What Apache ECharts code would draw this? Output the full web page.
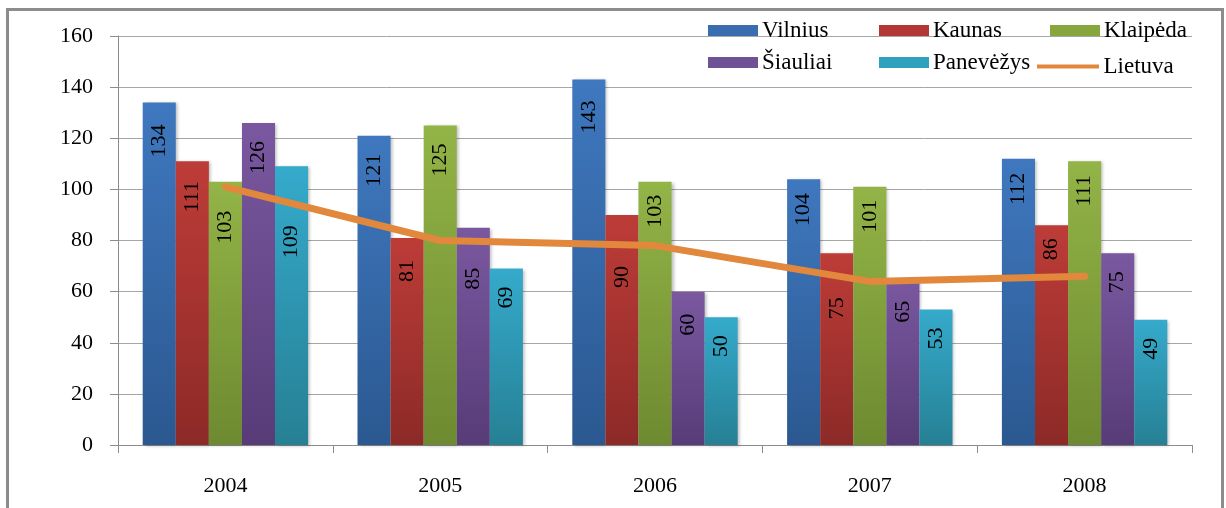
<!DOCTYPE html>
<html>
<head>
<meta charset="utf-8">
<script src="https://cdn.jsdelivr.net/npm/echarts@6/dist/echarts.min.js"></script>
<style>
html,body{margin:0;padding:0;background:#fff;}
#c{width:1226px;height:508px;}
</style>
</head>
<body>
<div id="c"></div>
<script>
const years = ['2004', '2005', '2006', '2007', '2008'];
const vilnius = [134, 121, 143, 104, 112];
const kaunas = [111, 81, 90, 75, 86];
const klaipeda = [103, 125, 103, 101, 111];
const siauliai = [126, 85, 60, 65, 75];
const panevezys = [109, 69, 50, 53, 49];
const lietuva = [101, 80, 78, 64, 66];
const yTicks = [0, 20, 40, 60, 80, 100, 120, 140, 160];

const FONT = '"Liberation Serif", "DejaVu Serif", serif';
const chart = echarts.init(document.getElementById('c'), null, {renderer: 'canvas'});

// label layout: default gap below bar top, with the few labels the original moved away from the line
const LABEL_GAP = 16;
const labelGapOverride = {
  'Klaipėda|0': 27, 'Panevėžys|0': 57, 'Šiauliai|1': 38, 'Kaunas|2': 49, 'Kaunas|3': 42,
  'Vilnius|0': 20, 'Vilnius|2': 19, 'Kaunas|0': 18, 'Kaunas|1': 20, 'Šiauliai|2': 20, 'Šiauliai|3': 20,
  'Vilnius|3': 12, 'Vilnius|4': 12, 'Kaunas|4': 11, 'Klaipėda|2': 11, 'Klaipėda|3': 11, 'Klaipėda|4': 12
};

function grad(top, bottom) {
  return new echarts.graphic.LinearGradient(0, 0, 0, 1, [
    {offset: 0, color: top}, {offset: 1, color: bottom}
  ]);
}
const barDefs = [
  {name: 'Vilnius', data: vilnius, top: '#3f78bf', bottom: '#2b5890'},
  {name: 'Kaunas', data: kaunas, top: '#bd3c38', bottom: '#8c2a27'},
  {name: 'Klaipėda', data: klaipeda, top: '#93b447', bottom: '#6d8a30'},
  {name: 'Šiauliai', data: siauliai, top: '#7a58a0', bottom: '#573c78'},
  {name: 'Panevėžys', data: panevezys, top: '#35aacb', bottom: '#268094'}
];

const series = barDefs.map(d => ({
  name: d.name,
  type: 'bar',
  data: d.data.map((v, i) => {
    const g = labelGapOverride[d.name + '|' + i];
    return g === undefined ? v : {value: v, label: {distance: g + 2}};
  }),
  barGap: '0%',
  barCategoryGap: '23%',
  itemStyle: {
    color: grad(d.top, d.bottom),
    shadowColor: 'rgba(0,0,0,0.25)',
    shadowBlur: 3,
    shadowOffsetX: 2,
    shadowOffsetY: 1
  },
  label: {
    show: true,
    position: 'insideTop',
    rotate: 90,
    align: 'right',
    verticalAlign: 'middle',
    distance: LABEL_GAP + 2,
    color: '#000',
    fontFamily: FONT,
    fontSize: 22
  },
  emphasis: {disabled: true}
}));
series.push({
  name: 'Lietuva',
  type: 'line',
  data: lietuva,
  symbol: 'none',
  lineStyle: {color: '#e2883c', width: 7, cap: 'round', join: 'round'},
  itemStyle: {color: '#e2883c'},
  z: 5
});

const legendPos = [
  {name: 'Vilnius', left: 708, top: 19, color: '#3a6db0'},
  {name: 'Kaunas', left: 879, top: 19, color: '#b33835'},
  {name: 'Klaipėda', left: 1050, top: 19, color: '#87a73e'},
  {name: 'Šiauliai', left: 708, top: 51, color: '#6f5196'},
  {name: 'Panevėžys', left: 879, top: 51, color: '#30a0bf'},
  {name: 'Lietuva', left: 1037, top: 51, color: '#e2883c', line: true}
];
const legends = legendPos.map(l => ({
  data: [{name: l.name, icon: l.line ? 'path://M0,0H62V4H0Z' : 'rect', itemStyle: {color: l.color}}],
  left: l.left,
  top: l.line ? l.top + 4 : l.top,
  itemWidth: l.line ? 63 : 50,
  itemHeight: l.line ? 4 : 11,
  itemGap: 0,
  padding: 0,
  textStyle: {fontFamily: FONT, fontSize: 23, color: '#000', padding: [0, 0, 0, -1]},
  selectedMode: false
}));

chart.setOption({
  animation: false,
  backgroundColor: '#fff',
  grid: {left: 118, right: 34, top: 36, bottom: 63},
  legend: legends,
  xAxis: {
    type: 'category',
    data: years,
    axisLine: {lineStyle: {color: '#8c8c8c', width: 1}},
    axisTick: {show: true, length: 8, lineStyle: {color: '#8c8c8c'}},
    axisLabel: {fontFamily: FONT, fontSize: 22, color: '#000', margin: 30}
  },
  yAxis: {
    type: 'value',
    min: 0, max: 160, interval: 20,
    axisLine: {show: true, lineStyle: {color: '#8c8c8c', width: 1}},
    axisTick: {show: true, length: 8, lineStyle: {color: '#8c8c8c'}},
    axisLabel: {fontFamily: FONT, fontSize: 22, color: '#000', margin: 25,
      formatter: v => yTicks.includes(v) ? String(v) : ''},
    splitLine: {show: true, lineStyle: {color: '#a6a6a6', width: 1}}
  },
  series: series,
  graphic: [{
    type: 'rect',
    shape: {x: 7.5, y: 9.5, width: 1215, height: 530},
    style: {fill: 'none', stroke: '#8c8c8c', lineWidth: 3},
    silent: true,
    z: 100
  }]
});
</script>
</body>
</html>
